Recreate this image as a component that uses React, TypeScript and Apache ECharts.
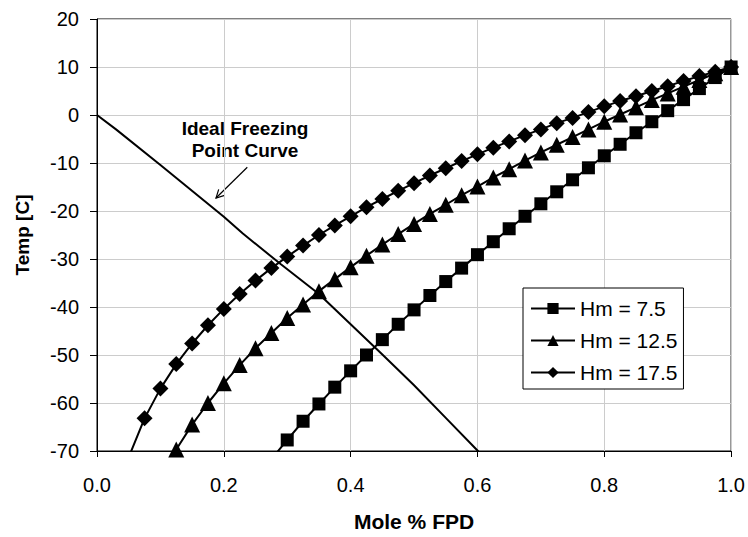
import React, { useEffect, useRef } from "react";
import * as echarts from "echarts";

// Mole fraction (x) and temperature (°C)
const hm75X = [0.275, 0.3, 0.325, 0.35, 0.375, 0.4, 0.425, 0.45, 0.475, 0.5, 0.525, 0.55, 0.575, 0.6, 0.625, 0.65, 0.675, 0.7, 0.725, 0.75, 0.775, 0.8, 0.825, 0.85, 0.875, 0.9, 0.925, 0.95, 0.975, 1.0];
const hm75Y = [-71.7, -67.7, -63.8, -60.2, -56.7, -53.3, -50.0, -46.8, -43.6, -40.6, -37.6, -34.7, -31.9, -29.1, -26.4, -23.7, -21.1, -18.5, -16.0, -13.5, -11.0, -8.5, -6.1, -3.7, -1.4, 0.9, 3.2, 5.5, 7.8, 10.0];

const hm125X = [0.1, 0.125, 0.15, 0.175, 0.2, 0.225, 0.25, 0.275, 0.3, 0.325, 0.35, 0.375, 0.4, 0.425, 0.45, 0.475, 0.5, 0.525, 0.55, 0.575, 0.6, 0.625, 0.65, 0.675, 0.7, 0.725, 0.75, 0.775, 0.8, 0.825, 0.85, 0.875, 0.9, 0.925, 0.95, 0.975, 1.0];
const hm125Y = [-75.7, -69.7, -64.5, -60.0, -55.9, -52.1, -48.6, -45.4, -42.3, -39.5, -36.7, -34.2, -31.7, -29.3, -27.0, -24.8, -22.7, -20.6, -18.7, -16.7, -14.9, -13.0, -11.3, -9.5, -7.8, -6.2, -4.6, -3.0, -1.4, 0.1, 1.6, 3.1, 4.5, 5.9, 7.3, 8.7, 10.0];

const hm175X = [0.05, 0.075, 0.1, 0.125, 0.15, 0.175, 0.2, 0.225, 0.25, 0.275, 0.3, 0.325, 0.35, 0.375, 0.4, 0.425, 0.45, 0.475, 0.5, 0.525, 0.55, 0.575, 0.6, 0.625, 0.65, 0.675, 0.7, 0.725, 0.75, 0.775, 0.8, 0.825, 0.85, 0.875, 0.9, 0.925, 0.95, 0.975, 1.0];
const hm175Y = [-71.3, -63.2, -57.0, -51.9, -47.6, -43.8, -40.4, -37.3, -34.5, -31.9, -29.5, -27.2, -25.0, -23.0, -21.1, -19.2, -17.5, -15.8, -14.2, -12.6, -11.1, -9.6, -8.2, -6.8, -5.5, -4.2, -3.0, -1.7, -0.6, 0.6, 1.8, 2.9, 3.9, 5.0, 6.0, 7.1, 8.1, 9.0, 10.0];

const idealX = [0, 0.03, 0.1, 0.2, 0.23, 0.29, 0.35, 0.4, 0.45, 0.5, 0.55, 0.6, 0.62];
const idealY = [0, -3.0, -10.4, -21.2, -24.7, -31.1, -37.3, -43.6, -49.9, -56.3, -63.1, -69.9, -72.8];

const seriesNames = ["Hm = 7.5", "Hm = 12.5", "Hm = 17.5"];
const xTicks = { min: 0, max: 1, interval: 0.2 };
const yTicks = { min: -70, max: 20, interval: 10 };
const xTitle = "Mole % FPD";
const yTitle = "Temp [C]";
const noteLines = ["Ideal Freezing", "Point Curve"];

const FONT = "'Liberation Sans', Arial, sans-serif";

const pairs = (xs: number[], ys: number[]) => xs.map((x, i) => [x, ys[i]]);

export default function App() {
  const ref = useRef<HTMLDivElement>(null);
  useEffect(() => {
    if (!ref.current) return;
    const chart = echarts.init(ref.current, undefined, { renderer: "svg" });
    const markerSeries = (name: string, data: number[][], symbol: string, size: number) => ({
      name,
      type: "line",
      data,
      symbol,
      symbolSize: size,
      clip: true,
      lineStyle: { color: "#000", width: 2 },
      itemStyle: { color: "#000", borderWidth: 0 },
      emphasis: { disabled: true },
    });
    chart.setOption({
      animation: false,
      backgroundColor: "#fff",
      grid: {
        left: 97,
        right: 14.5,
        top: 19,
        bottom: 81,
        show: true,
        borderColor: "#000",
        borderWidth: 1,
        backgroundColor: "#fff",
      },
      legend: {
        orient: "vertical",
        left: 523,
        top: 288,
        data: seriesNames,
        backgroundColor: "#fff",
        borderColor: "#000",
        borderWidth: 1,
        borderRadius: 0,
        padding: [10, 6, 6, 7],
        itemWidth: 44,
        itemHeight: 14,
        itemGap: 11,
        textStyle: { fontFamily: FONT, fontSize: 21, color: "#000" },
      },
      xAxis: {
        type: "value",
        ...xTicks,
        name: xTitle,
        nameLocation: "middle",
        nameGap: 60,
        nameTextStyle: { fontFamily: FONT, fontSize: 21, fontWeight: "bold", color: "#000" },
        axisLine: { show: true, onZero: false, lineStyle: { color: "#000", width: 1 } },
        axisTick: { show: true, inside: false, length: 6, lineStyle: { color: "#000" } },
        axisLabel: {
          margin: 24,
          fontFamily: FONT,
          fontSize: 20,
          color: "#000",
          formatter: (v: number) => v.toFixed(1),
        },
        splitLine: { show: true, lineStyle: { color: "#cccccc", width: 1 } },
      },
      yAxis: {
        type: "value",
        ...yTicks,
        name: yTitle,
        nameLocation: "middle",
        nameRotate: 90,
        nameGap: 65,
        nameTextStyle: { fontFamily: FONT, fontSize: 19, fontWeight: "bold", color: "#000" },
        axisLine: { show: true, onZero: false, lineStyle: { color: "#000", width: 1 } },
        axisTick: { show: true, inside: false, length: 7, lineStyle: { color: "#000" } },
        axisLabel: { margin: 18, fontFamily: FONT, fontSize: 20, color: "#000" },
        splitLine: { show: true, lineStyle: { color: "#cccccc", width: 1 } },
      },
      series: [
        {
          name: "Ideal Freezing Point Curve",
          type: "line",
          data: pairs(idealX, idealY),
          showSymbol: false,
          symbol: "none",
          clip: true,
          lineStyle: { color: "#000", width: 2 },
          emphasis: { disabled: true },
        },
        markerSeries(seriesNames[2], pairs(hm175X, hm175Y), "diamond", 16),
        markerSeries(seriesNames[1], pairs(hm125X, hm125Y), "triangle", 16),
        markerSeries(seriesNames[0], pairs(hm75X, hm75Y), "rect", 13),
      ],
      graphic: [
        {
          type: "text",
          x: 245,
          y: 128,
          style: {
            text: noteLines[0],
            fontFamily: FONT,
            fontSize: 19,
            fontWeight: "bold",
            fill: "#000",
            align: "center",
            verticalAlign: "middle",
          },
        },
        {
          type: "text",
          x: 245,
          y: 150,
          style: {
            text: noteLines[1],
            fontFamily: FONT,
            fontSize: 19,
            fontWeight: "bold",
            fill: "#000",
            align: "center",
            verticalAlign: "middle",
          },
        },
        {
          type: "line",
          shape: { x1: 247.3, y1: 167.3, x2: 216, y2: 198 },
          style: { stroke: "#000", lineWidth: 1.2 },
        },
        {
          type: "polyline",
          shape: { points: [[224.6, 195.4], [216, 198], [218.7, 189.4]] },
          style: { stroke: "#000", lineWidth: 1.2, fill: null },
        },
      ],
    });
    return () => chart.dispose();
  }, []);
  return (
    <div
      ref={ref}
      style={{ position: "fixed", left: 0, top: 0, width: 748, height: 537, background: "#fff" }}
    />
  );
}
